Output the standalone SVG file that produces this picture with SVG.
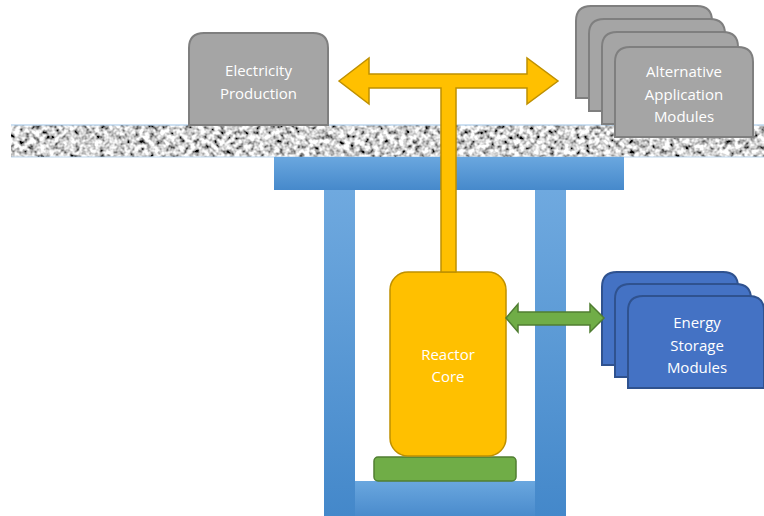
<svg xmlns="http://www.w3.org/2000/svg" width="764" height="516" viewBox="0 0 764 516">
<defs>
<style>
.lbl{font-family:"Open Sans","Noto Sans","Liberation Sans",sans-serif;font-size:15px;fill:#ffffff;text-anchor:middle}
.gray{fill:#a5a5a5;stroke:#7f7f7f;stroke-width:2}
.blue{fill:#4472c4;stroke:#2f528f;stroke-width:2}
</style>
<linearGradient id="gBeam" x1="0" y1="0" x2="0" y2="1">
<stop offset="0" stop-color="#6aa7df"/><stop offset="1" stop-color="#4689cb"/>
</linearGradient>
<linearGradient id="gPil" x1="0" y1="0" x2="0" y2="1">
<stop offset="0" stop-color="#6fa9df"/><stop offset="1" stop-color="#4488ca"/>
</linearGradient>
<linearGradient id="gBot" x1="0" y1="0" x2="0" y2="1">
<stop offset="0" stop-color="#6aa7df"/><stop offset="1" stop-color="#4a8bcc"/>
</linearGradient>
<filter id="noise" filterUnits="objectBoundingBox" x="0" y="0" width="1" height="1">
<feTurbulence type="fractalNoise" baseFrequency="0.2" numOctaves="2" seed="7"/>
<feColorMatrix type="matrix" values="2.4 0 0 0 -0.55  2.4 0 0 0 -0.55  2.4 0 0 0 -0.55  0 0 0 0 1"/>
<feGaussianBlur stdDeviation="0.7"/>
</filter>
</defs>

<g id="ground">
<rect x="11" y="125" width="753" height="32" fill="#999" filter="url(#noise)"/>
<line x1="11" y1="125" x2="764" y2="125" stroke="#9dc3e6" stroke-width="1"/>
<line x1="11" y1="157" x2="764" y2="157" stroke="#bdd7ee" stroke-width="1"/>
</g>

<g id="structure">
<rect x="274" y="157" width="350" height="33" fill="url(#gBeam)"/>
<rect x="324" y="190" width="31" height="326" fill="url(#gPil)"/>
<rect x="535" y="190" width="31" height="326" fill="url(#gPil)"/>
<rect x="355" y="481" width="180" height="35" fill="url(#gBot)"/>
</g>

<g id="electricity-production">
<path class="gray" d="M189,125 L189,48 Q189,33 204,33 L313,33 Q328,33 328,48 L328,125 Z"/>
<text class="lbl" x="258.5" y="76">Electricity</text>
<text class="lbl" x="258.5" y="99">Production</text>
</g>

<g id="alternative-application-modules">
<path class="gray" d="M576,98 L576,21 Q576,6 591,6 L697,6 Q712,6 712,21 L712,98 Z"/>
<path class="gray" d="M589,111 L589,34 Q589,19 604,19 L710,19 Q725,19 725,34 L725,111 Z"/>
<path class="gray" d="M602,124 L602,47 Q602,32 617,32 L723,32 Q738,32 738,47 L738,124 Z"/>
<path class="gray" d="M615,137 L615,62 Q615,47 630,47 L738,47 Q753,47 753,62 L753,137 Z"/>
<text class="lbl" x="684" y="77">Alternative</text>
<text class="lbl" x="684" y="100">Application</text>
<text class="lbl" x="684" y="122">Modules</text>
</g>

<g id="base-plate">
<rect x="374" y="457" width="142" height="24" rx="4" fill="#70ad47" stroke="#507e32" stroke-width="1.5"/>
</g>

<g id="reactor-core">
<rect x="390" y="272" width="116" height="184" rx="18" fill="#ffc000" stroke="#bf9000" stroke-width="1.5"/>
<text class="lbl" x="448" y="360">Reactor</text>
<text class="lbl" x="448" y="382">Core</text>
</g>

<g id="energy-storage-modules">
<path class="blue" d="M602,365 L602,287 Q602,272 617,272 L723,272 Q738,272 738,287 L738,365 Z"/>
<path class="blue" d="M615,377 L615,299 Q615,284 630,284 L736,284 Q751,284 751,299 L751,377 Z"/>
<path class="blue" d="M628,388 L628,311 Q628,296 643,296 L749,296 Q764,296 764,311 L764,388 Z"/>
<text class="lbl" x="697" y="328">Energy</text>
<text class="lbl" x="697" y="351">Storage</text>
<text class="lbl" x="697" y="373">Modules</text>
</g>

<g id="connectors">
<path d="M339,81 L369,58 L369,74 L527,74 L527,58 L558,81 L527,104 L527,88 L456,88 L456,272 L441,272 L441,88 L369,88 L369,104 Z" fill="#ffc000" stroke="#bf9000" stroke-width="1.5" stroke-linejoin="miter"/>
<path d="M506,318 L518,304 L518,312 L590,312 L590,304 L604,318 L590,332 L590,325 L518,325 L518,332 Z" fill="#70ad47" stroke="#507e32" stroke-width="1.5"/>
</g>
</svg>
